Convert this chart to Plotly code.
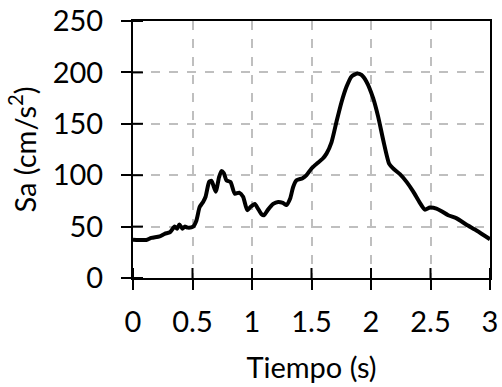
import plotly.graph_objects as go

tiempo = [0.0, 0.112, 0.154, 0.224, 0.266, 0.31, 0.35, 0.37, 0.39, 0.415, 0.435, 0.46, 0.505,
          0.533, 0.56, 0.589, 0.61, 0.64, 0.66, 0.695, 0.723, 0.743, 0.763, 0.785, 0.819,
          0.855, 0.892, 0.925, 0.96, 0.987, 1.023, 1.05, 1.08, 1.1, 1.135, 1.178, 1.22,
          1.26, 1.29, 1.32, 1.346, 1.374, 1.425, 1.458, 1.5, 1.542, 1.593, 1.626, 1.668,
          1.71, 1.752, 1.794, 1.836, 1.884, 1.92, 1.962, 2.018, 2.06, 2.103, 2.153, 2.187,
          2.243, 2.299, 2.355, 2.411, 2.453, 2.495, 2.55, 2.593, 2.649, 2.72, 2.8, 2.89, 3.0]
sa = [37.3, 37, 39, 40.5, 43, 44.5, 50, 48, 52, 48, 50, 49, 50,
      56, 69, 74, 79, 93.5, 94.5, 84, 98, 104, 102, 95, 93.5,
      82, 83, 79, 66, 69, 72, 67.5, 62, 61, 66.5, 72, 74,
      73, 71, 77, 88.6, 95, 97, 100, 106.5, 111, 116, 121, 132,
      152, 171, 186, 196, 199, 197.5, 191, 175, 157, 134, 111, 106.5,
      101, 93.5, 84, 73, 66.5, 68.5, 67.5, 65, 61, 58, 52, 46, 37.7]

x_ticks = [0, 0.5, 1, 1.5, 2, 2.5, 3]
x_labels = ["0", "0.5", "1", "1.5", "2", "2.5", "3"]
y_ticks = [0, 50, 100, 150, 200, 250]
y_labels = ["0", "50", "100", "150", "200", "250"]

FONT = "Lato, Open Sans, sans-serif"
FS = 29
TICK = 10

fig = go.Figure()
fig.add_trace(go.Scatter(x=tiempo, y=sa, mode="lines",
                         line=dict(color="black", width=4, shape="spline", smoothing=0.6),
                         showlegend=False, hoverinfo="skip"))

axis_common = dict(showline=True, linecolor="black", linewidth=2, mirror=True,
                   ticks="outside", ticklen=TICK, tickwidth=2, tickcolor="black",
                   showgrid=True, gridcolor="#BFBFBF", gridwidth=1.5, griddash="dash",
                   zeroline=False, automargin=False,
                   tickfont=dict(family=FONT, size=FS, color="black"))

# inner half of the crossing tick marks
for xv in x_ticks:
    fig.add_shape(type="line", xref="x", x0=xv, x1=xv, yref="paper",
                  ysizemode="pixel", yanchor=0, y0=0, y1=TICK,
                  line=dict(color="black", width=2), layer="above")
for yv in y_ticks:
    fig.add_shape(type="line", yref="y", y0=yv, y1=yv, xref="paper",
                  xsizemode="pixel", xanchor=0, x0=0, x1=TICK,
                  line=dict(color="black", width=2), layer="above")

fig.update_layout(
    width=502, height=387,
    margin=dict(l=133, r=12, t=21, b=109),
    paper_bgcolor="white", plot_bgcolor="white",
    font=dict(family=FONT, color="black"),
    xaxis=dict(range=[0, 3], tickvals=x_ticks, ticktext=x_labels, ticklabelstandoff=7,
               title=dict(text="Tiempo (s)", font=dict(family=FONT, size=FS), standoff=21),
               **axis_common),
    yaxis=dict(range=[0, 250], tickvals=y_ticks, ticktext=y_labels, ticklabelstandoff=12,
               title=dict(text="Sa (cm/s<sup>2</sup>)", font=dict(family=FONT, size=FS), standoff=8),
               **axis_common),
)

fig.write_html("out.html", post_script="document.body.style.margin='0';",
               config={"displayModeBar": False})
